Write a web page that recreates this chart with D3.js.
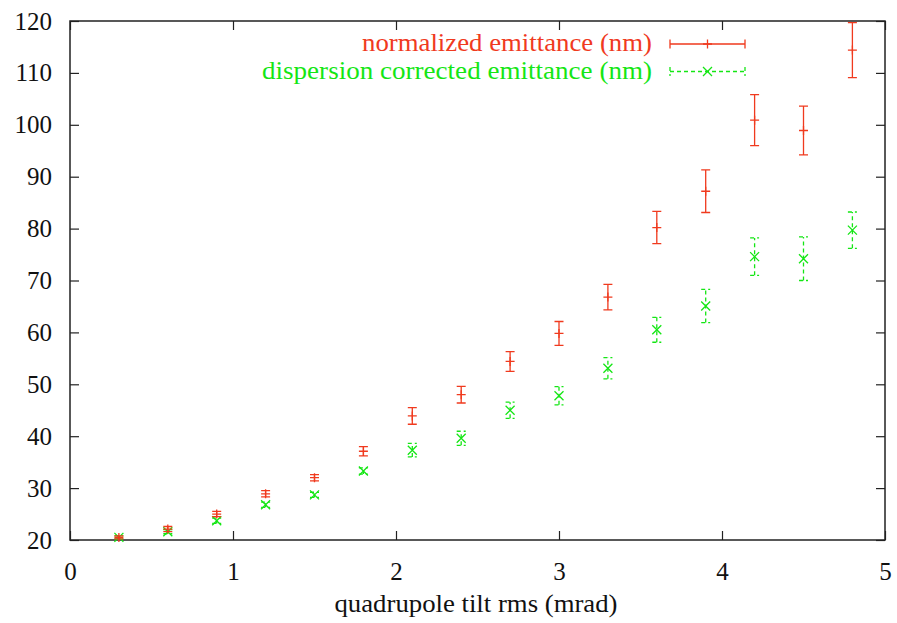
<!DOCTYPE html>
<html>
<head>
<meta charset="utf-8">
<script src="https://cdn.jsdelivr.net/npm/d3@7"></script>
<style>
  html, body { margin: 0; padding: 0; background: #fff; }
  svg text { font-family: 'Liberation Serif' !important; font-size: 25px; }
</style>
</head>
<body>
<script>
// ── Data ──
var tiltRms = [0.3, 0.6, 0.9, 1.2, 1.5, 1.8, 2.1, 2.4, 2.7, 3.0, 3.3, 3.6, 3.9, 4.2, 4.5, 4.8];
var normEmit = [20.5, 22.1, 25.0, 28.9, 32.0, 37.1, 43.9, 48.0, 54.4, 59.8, 66.8, 80.2, 87.2, 100.9, 98.9, 114.4];
var normErr = [0.3, 0.5, 0.5, 0.6, 0.6, 0.9, 1.6, 1.6, 1.9, 2.3, 2.45, 3.1, 4.1, 4.9, 4.7, 5.3];
var dispEmit = [20.5, 21.6, 23.7, 26.8, 28.7, 33.3, 37.3, 39.6, 45.0, 47.8, 53.1, 60.5, 65.1, 74.6, 74.2, 79.7];
var dispErr = [0.3, 0.4, 0.5, 0.5, 0.5, 0.6, 1.3, 1.35, 1.55, 1.75, 2.05, 2.4, 3.2, 3.6, 4.2, 3.5];
var xTicks = [0, 1, 2, 3, 4, 5];
var yTicks = [20, 30, 40, 50, 60, 70, 80, 90, 100, 110, 120];
var seriesNames = ['normalized emittance (nm)', 'dispersion corrected emittance (nm)'];
var xTitle = 'quadrupole tilt rms (mrad)';

(function () {
  'use strict';

  // ── Constants ──
  var WIDTH = 897;
  var HEIGHT = 623;
  var MARGIN = { top: 21, right: 12, bottom: 83, left: 70 };
  var RED = '#f03a1e';
  var GREEN = '#14e614';
  var AXIS_COLOR = '#222';
  var FONT = "'Liberation Serif'";
  var FONT_SIZE = '25px';
  var TICK_LEN = 9;
  var CAP = 4.5;
  var MARK = 4.5;

  var innerW = WIDTH - MARGIN.left - MARGIN.right;
  var innerH = HEIGHT - MARGIN.top - MARGIN.bottom;

  var svg = d3.select('body').append('svg')
    .attr('width', WIDTH)
    .attr('height', HEIGHT)
    .style('display', 'block');

  var g = svg.append('g')
    .attr('transform', 'translate(' + MARGIN.left + ',' + MARGIN.top + ')');

  var x = d3.scaleLinear().domain([0, 5]).range([0, innerW]);
  var y = d3.scaleLinear().domain([20, 120]).range([innerH, 0]);

  // ── Axes: gnuplot-style inward ticks mirrored on all sides ──
  function styleAxis(sel) {
    sel.attr('font-family', FONT).attr('font-size', FONT_SIZE);
    sel.select('.domain').remove();
    sel.selectAll('.tick line').attr('stroke', AXIS_COLOR).attr('stroke-width', 1.2);
    sel.selectAll('.tick text')
      .style('font-family', FONT)
      .style('font-size', FONT_SIZE)
      .attr('fill', '#111');
  }

  g.append('g')
    .attr('transform', 'translate(0,' + innerH + ')')
    .call(d3.axisBottom(x).tickValues(xTicks).tickFormat(d3.format('d'))
      .tickSizeInner(-TICK_LEN).tickSizeOuter(0).tickPadding(TICK_LEN + 13))
    .call(styleAxis);

  g.append('g')
    .call(d3.axisLeft(y).tickValues(yTicks).tickFormat(d3.format('d'))
      .tickSizeInner(-TICK_LEN).tickSizeOuter(0).tickPadding(TICK_LEN + 9))
    .call(styleAxis);

  g.append('g')
    .call(d3.axisTop(x).tickValues(xTicks).tickFormat('')
      .tickSizeInner(-TICK_LEN).tickSizeOuter(0))
    .call(styleAxis);

  g.append('g')
    .attr('transform', 'translate(' + innerW + ',0)')
    .call(d3.axisRight(y).tickValues(yTicks).tickFormat('')
      .tickSizeInner(-TICK_LEN).tickSizeOuter(0))
    .call(styleAxis);

  // frame
  g.append('rect')
    .attr('x', 0).attr('y', 0)
    .attr('width', innerW).attr('height', innerH)
    .attr('fill', 'none')
    .attr('stroke', AXIS_COLOR)
    .attr('stroke-width', 1.5);

  // axis title
  svg.append('text')
    .attr('x', 476)
    .attr('y', 612)
    .attr('text-anchor', 'middle')
    .style('font-family', FONT)
    .style('font-size', FONT_SIZE)
    .attr('fill', '#111')
    .attr('textLength', 283)
    .attr('lengthAdjust', 'spacingAndGlyphs')
    .text(xTitle);

  // ── Error bars + markers ──
  function drawErrorBars(values, errs, color, dash, marker) {
    var grp = g.append('g')
      .attr('stroke', color)
      .attr('stroke-width', 1.3)
      .attr('fill', 'none');

    var pts = tiltRms.map(function (t, i) {
      return { x: x(t), y: y(values[i]), lo: y(values[i] - errs[i]), hi: y(values[i] + errs[i]) };
    });

    grp.selectAll('.bar').data(pts).join('path')
      .attr('class', 'bar')
      .attr('stroke-dasharray', dash)
      .attr('d', function (d) {
        return 'M' + d.x + ',' + d.lo + 'V' + d.hi +
          'M' + (d.x - CAP) + ',' + d.hi + 'H' + (d.x + CAP) +
          'M' + (d.x - CAP) + ',' + d.lo + 'H' + (d.x + CAP);
      });

    grp.selectAll('.mark').data(pts).join('path')
      .attr('class', 'mark')
      .attr('d', function (d) { return marker(d.x, d.y); });
  }

  function plusMark(cx, cy) {
    return 'M' + (cx - MARK) + ',' + cy + 'H' + (cx + MARK) +
      'M' + cx + ',' + (cy - MARK) + 'V' + (cy + MARK);
  }

  function crossMark(cx, cy) {
    return 'M' + (cx - MARK) + ',' + (cy - MARK) + 'L' + (cx + MARK) + ',' + (cy + MARK) +
      'M' + (cx - MARK) + ',' + (cy + MARK) + 'L' + (cx + MARK) + ',' + (cy - MARK);
  }

  drawErrorBars(dispEmit, dispErr, GREEN, '4,3', crossMark);
  drawErrorBars(normEmit, normErr, RED, null, plusMark);

  // ── Legend ──
  var legend = svg.append('g');
  var legendRows = [
    { name: seriesNames[0], color: RED, dash: null, marker: plusMark, y: 44, len: 290 },
    { name: seriesNames[1], color: GREEN, dash: '4,3', marker: crossMark, y: 71.5, len: 390 }
  ];
  var lx0 = 670, lx1 = 745;

  legendRows.forEach(function (r) {
    legend.append('text')
      .attr('x', 652)
      .attr('y', r.y + 7)
      .attr('text-anchor', 'end')
      .style('font-family', FONT)
      .style('font-size', FONT_SIZE)
      .attr('fill', r.color)
      .attr('textLength', r.len)
      .attr('lengthAdjust', 'spacingAndGlyphs')
      .text(r.name);

    var lg = legend.append('g')
      .attr('stroke', r.color)
      .attr('stroke-width', 1.3)
      .attr('fill', 'none');
    lg.append('path')
      .attr('stroke-dasharray', r.dash)
      .attr('d', 'M' + lx0 + ',' + r.y + 'H' + lx1 +
        'M' + lx0 + ',' + (r.y - CAP) + 'V' + (r.y + CAP) +
        'M' + lx1 + ',' + (r.y - CAP) + 'V' + (r.y + CAP));
    lg.append('path').attr('d', r.marker((lx0 + lx1) / 2, r.y));
  });
})();
</script>
</body>
</html>
